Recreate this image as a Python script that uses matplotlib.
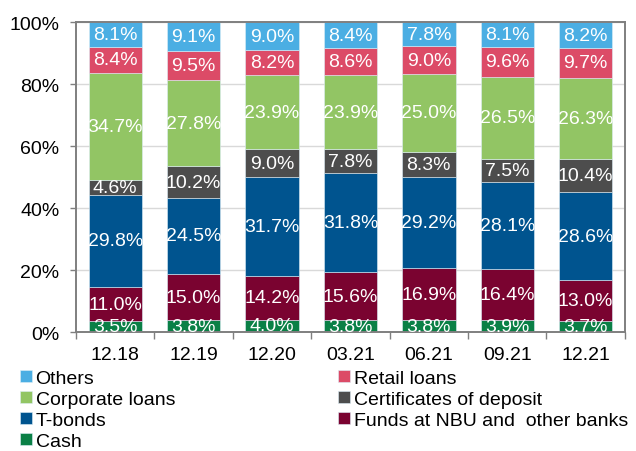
import numpy as np
import matplotlib.pyplot as plt

plt.rcParams['font.family'] = ['Liberation Sans', 'DejaVu Sans']

periods = ["12.18", "12.19", "12.20", "03.21", "06.21", "09.21", "12.21"]

# stack order, bottom to top
cash = [3.5, 3.8, 4.0, 3.8, 3.8, 3.9, 3.7]
funds_nbu = [11.0, 15.0, 14.2, 15.6, 16.9, 16.4, 13.0]
t_bonds = [29.8, 24.5, 31.7, 31.8, 29.2, 28.1, 28.6]
certificates = [4.6, 10.2, 9.0, 7.8, 8.3, 7.5, 10.4]
corporate = [34.7, 27.8, 23.9, 23.9, 25.0, 26.5, 26.3]
retail = [8.4, 9.5, 8.2, 8.6, 9.0, 9.6, 9.7]
others = [8.1, 9.1, 9.0, 8.4, 7.8, 8.1, 8.2]

series = [
    ("Cash", cash, "#0A8046"),
    ("Funds at NBU and  other banks", funds_nbu, "#7A0330"),
    ("T-bonds", t_bonds, "#00548F"),
    ("Certificates of deposit", certificates, "#4D4D4D"),
    ("Corporate loans", corporate, "#92C564"),
    ("Retail loans", retail, "#DC4B67"),
    ("Others", others, "#4BAEE3"),
]

fig = plt.figure(figsize=(6.36, 4.52), dpi=100)
ax = fig.add_axes([0.1195, 0.263, 0.863, 0.686])

x = np.arange(len(periods))
bottom = np.zeros(len(periods))
bars = {}
for name, vals, col in series:
    vals = np.array(vals)
    b = ax.bar(x, vals, 0.68, bottom=bottom, color=col, edgecolor="#DDEEF7",
               linewidth=0.4, zorder=2, label=name)
    bars[name] = b
    for xi, v, b0 in zip(x, vals, bottom):
        ax.text(xi, b0 + v / 2, f"{v:.1f}%", ha="center", va="center",
                color="white", fontsize=14, zorder=3, clip_on=True)
    bottom += vals

ax.set_xlim(-0.5, len(periods) - 0.5)
ax.set_ylim(0, 100)
ax.set_yticks(np.arange(0, 101, 20))
ax.set_yticklabels([f"{v}%" for v in range(0, 101, 20)], fontsize=14)
ax.set_xticks(x)
ax.set_xticklabels(periods, fontsize=14)
ax.set_xticks(np.arange(-0.5, len(periods), 1), minor=True)
ax.tick_params(axis="x", which="major", length=0, pad=10)
ax.tick_params(axis="x", which="minor", length=5, color="#7F7F7F", width=1)
ax.tick_params(axis="y", length=4, color="#7F7F7F", width=1, pad=8)
ax.grid(axis="y", color="#D9D9D9", linewidth=1, zorder=0)
ax.set_axisbelow(True)
for sp in ax.spines.values():
    sp.set_color("#7F7F7F")
    sp.set_linewidth(1.4)

order = ["Others", "Corporate loans", "T-bonds", "Cash",
         "Retail loans", "Certificates of deposit", "Funds at NBU and  other banks"]
fig.legend([bars[n] for n in order], order, ncol=2, loc="upper left",
           bbox_to_anchor=(0.0315, 0.179), frameon=False, fontsize=14,
           handlelength=0.6, handleheight=0.6, handletextpad=0.2,
           labelspacing=0.2, columnspacing=8.4, borderaxespad=0, borderpad=0)

fig.savefig("out.png", dpi=100)
